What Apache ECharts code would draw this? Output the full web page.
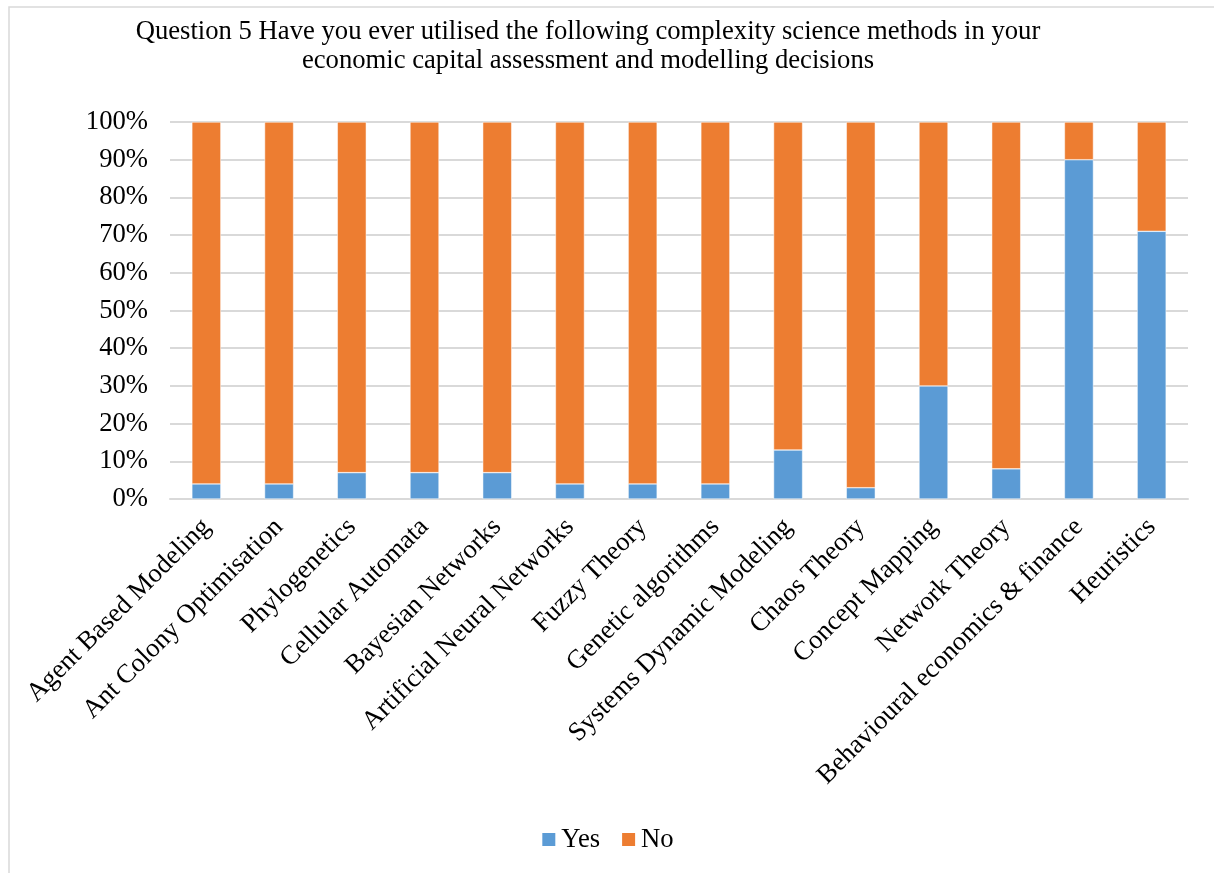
<!doctype html>
<html lang="en">
<head>
  <meta charset="UTF-8">
  <title>Question 5</title>
  <style>
    html, body { margin: 0; padding: 0; background: #fff; }
    #chart { width: 1214px; height: 873px; }
  </style>
  <script src="https://cdn.jsdelivr.net/npm/echarts@6/dist/echarts.min.js"></script>
</head>
<body>
  <div id="chart"></div>
  <script>
    var methods = ['Agent Based Modeling', 'Ant Colony Optimisation', 'Phylogenetics', 'Cellular Automata',
      'Bayesian Networks', 'Artificial Neural Networks', 'Fuzzy Theory', 'Genetic algorithms',
      'Systems Dynamic Modeling', 'Chaos Theory', 'Concept Mapping', 'Network Theory',
      'Behavioural economics & finance', 'Heuristics'];
    var yesPct = [4, 4, 7, 7, 7, 4, 4, 4, 13, 3, 30, 8, 90, 71];
    var noPct = [96, 96, 93, 93, 93, 96, 96, 96, 87, 97, 70, 92, 10, 29];

    var font = '"Liberation Serif", "Times New Roman", serif';
    var fs = 26.67; // 20pt
    var myChart = echarts.init(document.getElementById('chart'));

    var option = {
      backgroundColor: '#fff',
      animation: false,
      textStyle: { fontFamily: font, color: '#000' },
      title: {
        text: 'Question 5 Have you ever utilised the following complexity science methods in your\neconomic capital assessment and modelling decisions',
        left: 583,
        textAlign: 'center',
        top: 12,
        textStyle: { fontFamily: font, fontSize: fs, fontWeight: 'normal', color: '#000', lineHeight: 29 }
      },
      graphic: [{
        type: 'rect',
        shape: { x: 9, y: 7, width: 1220, height: 880 },
        style: { fill: 'none', stroke: '#d9d9d9', lineWidth: 1.5 }
      }],
      legend: {
        bottom: 15,
        left: 'center',
        itemWidth: 15,
        itemHeight: 15,
        itemGap: 20,
        icon: 'rect',
        textStyle: { fontFamily: font, fontSize: fs, color: '#000' },
        data: ['Yes', 'No']
      },
      grid: { left: 170, right: 26, top: 122, bottom: 374 },
      xAxis: {
        type: 'category',
        data: methods,
        axisLine: { lineStyle: { color: '#d9d9d9', width: 2 } },
        axisTick: { show: false },
        axisLabel: {
          rotate: 45,
          interval: 0,
          margin: 24,
          fontFamily: font,
          fontSize: fs,
          color: '#000'
        }
      },
      yAxis: {
        type: 'value',
        min: 0,
        max: 100,
        interval: 10,
        axisLine: { show: false },
        axisTick: { show: false },
        splitLine: { lineStyle: { color: '#d9d9d9', width: 2 } },
        axisLabel: {
          formatter: '{value}%',
          margin: 22,
          fontFamily: font,
          fontSize: fs,
          color: '#000'
        }
      },
      series: [{
        name: 'Yes',
        type: 'bar',
        stack: 'total',
        barWidth: 29,
        data: yesPct,
        itemStyle: { color: '#5b9bd5', borderColor: '#fff', borderWidth: 0.5 }
      }, {
        name: 'No',
        type: 'bar',
        stack: 'total',
        barWidth: 29,
        data: noPct,
        itemStyle: { color: '#ed7d31', borderColor: '#fff', borderWidth: 0.5 }
      }]
    };
    myChart.setOption(option);
  </script>
</body>
</html>
